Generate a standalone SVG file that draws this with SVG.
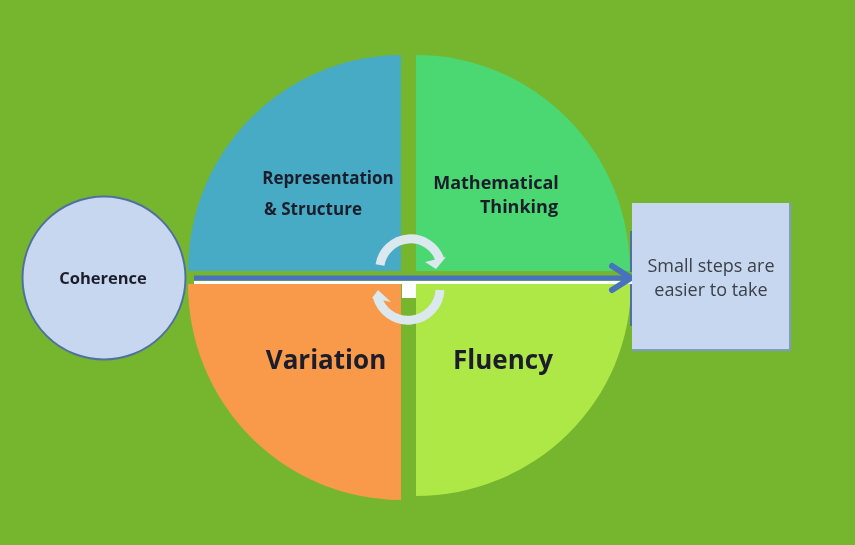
<svg xmlns="http://www.w3.org/2000/svg" width="855" height="545" viewBox="0 0 855 545">
<defs>
<filter id="soft" x="0" y="0" width="855" height="545" filterUnits="userSpaceOnUse"><feGaussianBlur stdDeviation="0.6"/></filter>
</defs>
<style>
text{font-family:"Open Sans","Liberation Sans",sans-serif;fill:#1a1f2b;text-anchor:middle}
.b{font-weight:700}
.node{fill:#c7d7ef;stroke:#4f719f;stroke-width:2}
.cyc{fill:none;stroke:#dbe8ee;stroke-width:9}
</style>
<rect id="background" width="855" height="545" fill="#76b52e"/>
<g filter="url(#soft)">
<g id="representation">
<path d="M401 55A214 216 0 0 0 188 271H401Z" fill="#47abc5"/>
<text class="b" x="328" y="184" font-size="17">Representation</text>
<text class="b" x="313" y="215" font-size="17">&amp; Structure</text>
</g>
<g id="thinking">
<path d="M416 55A214 216 0 0 1 630 271H416Z" fill="#4bd872"/>
<text class="b" x="496" y="189" font-size="18">Mathematical</text>
<text class="b" x="519" y="213" font-size="18">Thinking</text>
</g>
<g id="variation">
<path d="M401 284H188A213 216 0 0 0 401 500Z" fill="#f89a48"/>
<text class="b" x="326" y="369" font-size="26">Variation</text>
</g>
<g id="fluency">
<path d="M416 284H631A215 212 0 0 1 416 496Z" fill="#aee847"/>
<text class="b" x="503" y="369" font-size="26">Fluency</text>
</g>
<rect x="402" y="284" width="14" height="14" fill="#fff"/>
<g id="connectors">
<rect x="194" y="281" width="438" height="3" fill="#fff"/>
<path d="M194 278H630" fill="none" stroke="#4a72bd" stroke-width="5"/>
<path d="M612 266L631 278L612 290" fill="none" stroke="#4a72bd" stroke-width="6" stroke-linecap="round" stroke-linejoin="round"/>
<path d="M631 231V272M631 284V326" fill="none" stroke="#4f719f" stroke-width="2"/>
<path class="cyc" d="M380 265A31 31 0 0 1 440 260"/>
<path class="cyc" d="M377 296A32 32 0 0 0 440 290"/>
<path d="M425 262L446 257L436 269Z" fill="#dbe8ee"/>
<path d="M372 298L378 290L391 302Z" fill="#dbe8ee"/>
</g>
<g id="coherence">
<circle class="node" cx="104" cy="278" r="81.5"/>
<text class="b" x="103" y="284" font-size="16.5">Coherence</text>
</g>
<g id="steps">
<rect x="632" y="203" width="158" height="147" fill="#c7d7ef"/>
<path d="M790 203V350H632" fill="none" stroke="#7b9cc8" stroke-width="2"/>
<text x="711" y="272" font-size="18" style="fill:#3a3f48">Small steps are</text>
<text x="711" y="296" font-size="18" style="fill:#3a3f48">easier to take</text>
</g>
</g>
</svg>
